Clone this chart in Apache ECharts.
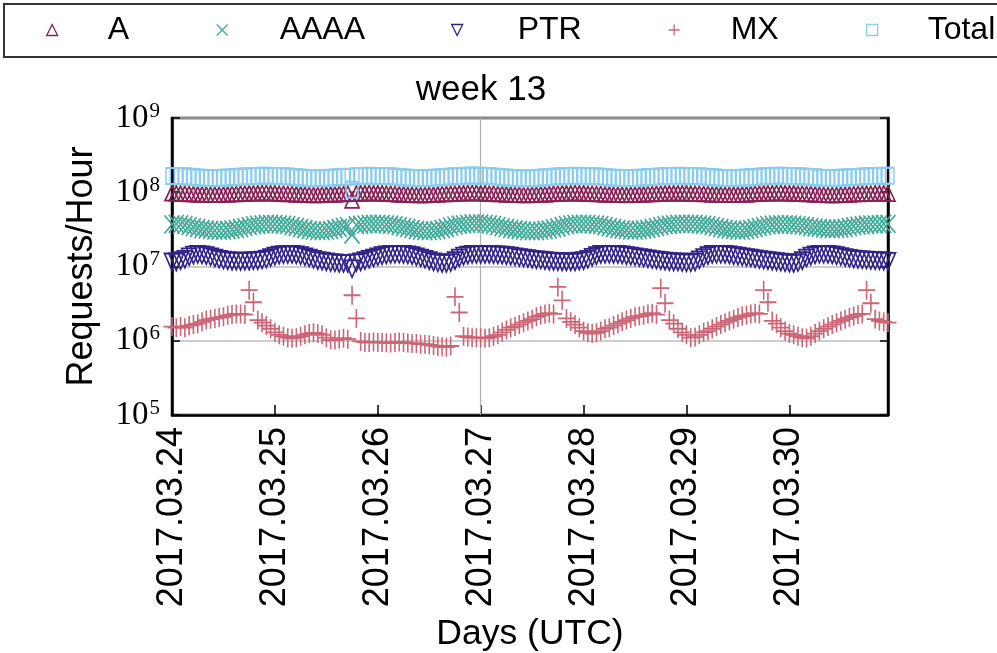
<!DOCTYPE html>
<html>
<head>
<meta charset="utf-8">
<script src="https://cdn.jsdelivr.net/npm/echarts@6/dist/echarts.min.js"></script>
<style>
  html, body { margin: 0; padding: 0; background: #ffffff; }
  #chart { width: 997px; height: 653px; }
</style>
</head>
<body>
<div id="chart"></div>
<script>
// Day tick labels (one tick every 24 hourly samples)
const dayLabels = ['2017.03.24', '2017.03.25', '2017.03.26', '2017.03.27', '2017.03.28', '2017.03.29', '2017.03.30'];
const weekStartDay = '2017.03.27';
const seriesNames = ['A', 'AAAA', 'PTR', 'MX', 'Total'];

// Hourly request rates, in millions of requests per hour (one row per day)
const reqA = [
  97,97,96,96,95,95,94,94,93,93,93,93,94,94,95,95,96,96,97,97,97,98,98,97,
  97,96,96,95,95,94,94,93,93,92,92,93,93,94,94,95,95,96,78,96,97,97,98,97,
  97,97,96,96,95,94,94,93,93,92,92,92,93,93,94,95,95,96,96,97,97,98,98,98,
  97,97,96,96,95,95,94,93,93,93,92,92,93,93,94,94,95,96,96,97,97,97,98,97,
  97,96,96,95,95,94,94,93,93,93,92,93,93,94,94,95,95,96,96,97,97,97,97,97,
  97,96,96,96,95,95,94,94,93,93,93,93,93,94,94,95,96,96,97,97,97,98,98,97,
  97,97,96,96,95,95,94,93,93,92,92,92,93,93,94,95,95,96,96,96,97,97,97,96
];
const reqAAAA = [
  37,37.5,37,36,35,34,33,32,31.5,31,30.5,30.5,30.5,31,31.5,32,33,34,35,36,36.5,37,37.5,37.5,
  37.5,37,36.5,36,35,34,33,32,31,30.5,30,30,30.5,31,32,33,34,35,27,36,36.5,37,37.5,37.5,
  37.5,37.5,37,36.5,36,35,34,33,32,31,30.5,30,30,30.5,31,32,33,34.5,35.5,36.5,37,37.5,38,38,
  38,37.5,37,36,35,34,33,32,31.5,31,30.5,30,30,30,30.5,31,31.5,32.5,33.5,35,36,37,37.5,37.5,
  37.5,37.5,37,36.5,36,35,34,33,32,31.5,31,30.5,30.5,31,31.5,32,33,34,35,36,36.5,37,37.5,37.5,
  37.5,37.5,37.5,37,36.5,36,35,34,33,32,31.5,31,30.5,30.5,31,32,33,34,35,36,36.5,37,37,37,
  37,36.5,36,35.5,35,34,33.5,33,32.5,32,32,32,32.5,33,34,35,35.5,36,36.5,37,37,37,37.5,37.5
];
const reqPTR = [
  11.5,11.5,12,12.5,13.5,14.2,14.5,14.3,14,13.5,13,12.5,12.2,12,11.8,11.8,11.7,11.8,11.8,12,12,12.2,12.6,13.2,
  13.8,14.2,14.4,14.5,14.5,14.3,14,13.5,13,12.5,12,11.8,11.5,11.3,11.2,11,11,11,9.3,11.2,11.5,12,12.5,13,
  13.5,14,14.3,14.5,14.6,14.6,14.5,14.3,14,13.5,13,12.5,12,11.5,11.2,11,11,11.3,12,13,13.8,14.2,14.5,14.5,
  14.5,14.5,14.5,14.4,14.3,14.2,14,13.8,13.5,13.2,13,12.8,12.5,12.3,12.2,12,11.8,11.7,11.6,11.5,11.5,11.5,11.5,11.8,
  12,12.5,13.3,14,14.5,14.6,14.6,14.5,14.5,14.3,14,13.8,13.5,13.2,13,12.7,12.4,12.2,12,11.8,11.6,11.5,11.5,11.3,
  11.2,11.2,11.5,12.3,13.2,14,14.5,14.6,14.6,14.5,14.3,14,13.8,13.5,13.2,13,12.7,12.4,12.2,12,11.8,11.6,11.4,11.2,
  11.1,11,11.3,12,13,13.8,14.3,14.6,14.6,14.5,14.3,14,13.6,13.2,12.9,12.6,12.4,12.3,12.2,12.1,12,12,11.8,11.7
];
const reqMX = [
  1.55,1.5,1.55,1.5,1.6,1.65,1.7,1.8,1.9,1.95,2.0,2.05,2.1,2.2,2.25,2.3,2.3,2.25,4.8,3.3,1.9,1.75,1.6,1.45,
  1.3,1.2,1.15,1.1,1.08,1.1,1.15,1.2,1.25,1.28,1.25,1.2,1.1,1.03,1.02,1.05,1.08,1.05,4.1,2.0,0.98,0.95,0.95,0.96,
  0.95,0.95,0.94,0.93,0.95,0.96,0.95,0.93,0.92,0.92,0.9,0.9,0.88,0.86,0.84,0.83,0.82,0.85,3.9,2.4,1.15,1.12,1.1,1.1,
  1.1,1.08,1.1,1.15,1.2,1.3,1.4,1.5,1.55,1.65,1.75,1.85,1.95,2.1,2.2,2.3,2.35,2.3,5.3,3.5,2.0,1.8,1.65,1.5,
  1.35,1.28,1.25,1.28,1.35,1.45,1.5,1.6,1.7,1.8,1.9,2.0,2.1,2.15,2.2,2.3,2.35,2.25,5.1,3.2,1.9,1.7,1.45,1.3,
  1.2,1.1,1.12,1.2,1.3,1.35,1.45,1.55,1.65,1.75,1.85,1.95,2.05,2.15,2.2,2.3,2.35,2.3,4.8,3.3,1.85,1.7,1.5,1.35,
  1.25,1.2,1.15,1.1,1.08,1.15,1.25,1.35,1.45,1.55,1.65,1.75,1.85,1.95,2.05,2.15,2.25,2.3,4.8,3.2,1.95,1.85,1.8,1.75
];
const reqTotal = [
  166,166,165,164,162,160,158,157,156,155,155,156,157,158,159,160,162,163,164,165,166,167,167,166,
  166,165,164,163,161,159,158,156,155,154,154,155,156,157,158,160,161,162,108,164,165,166,167,166,
  166,166,165,164,162,160,158,157,156,155,154,155,156,157,158,160,161,163,164,165,166,167,168,167,
  167,166,165,163,161,159,158,156,155,154,154,154,155,156,157,159,160,162,163,164,165,166,167,166,
  166,165,164,163,162,160,158,157,156,155,155,155,156,157,158,160,161,162,163,165,166,166,167,166,
  166,166,165,164,162,161,159,158,156,155,155,155,156,157,158,159,161,162,164,165,166,167,167,166,
  166,165,164,163,162,160,159,157,156,156,155,156,157,158,159,160,161,163,164,165,166,166,167,167
];

const UNIT = 1e6;          // stored values are millions
const HOURS_PER_DAY = 24;

const seriesValues = [reqA, reqAAAA, reqPTR, reqMX, reqTotal];
const colors = ['#882255', '#44aa99', '#332288', '#cc6677', '#88ccee'];
const symbols = [
  'path://M5,0L10,10L0,10Z',          // open triangle
  'path://M0,0L10,10M10,0L0,10',      // cross
  'path://M0,0L10,0L5,10Z',           // open inverted triangle
  'path://M5,0L5,10M0,5L10,5',        // plus
  'path://M0,0L10,0L10,10L0,10Z'      // open square
];
const symbolSizes = [[14, 15], [15, 18], [15, 17], [17, 19], [12, 16]];

const legendLeft = [46, 216, 451, 668, 866];
const legendTextPad = [45, 47, 50, 46, 45];

const SANS = 'Liberation Sans, Arial, sans-serif';
const SERIF = 'Liberation Serif, Times New Roman, serif';

const series = seriesNames.map((name, k) => {
  const s = {
    name: name,
    type: 'scatter',
    data: seriesValues[k].map((v, i) => [i, v * UNIT]),
    symbol: symbols[k],
    symbolSize: symbolSizes[k],
    symbolKeepAspect: false,
    itemStyle: { color: 'rgba(0,0,0,0)', borderColor: colors[k], borderWidth: 1.7, opacity: 1 },
    emphasis: { disabled: true },
    silent: true,
    animation: false,
    z: 3
  };
  if (k === 0) {
    s.markLine = {
      silent: true,
      symbol: 'none',
      z: 1,
      animation: false,
      label: { show: false },
      lineStyle: { color: '#b0b0b0', width: 1.2, type: 'solid' },
      data: [{ xAxis: dayLabels.indexOf(weekStartDay) * HOURS_PER_DAY }]
    };
  }
  return s;
});

const legends = seriesNames.map((name, k) => ({
  data: [{ name: name, icon: symbols[k] }],
  left: legendLeft[k],
  top: 14,
  padding: 0,
  itemWidth: 11,
  itemHeight: 13,
  selectedMode: false,
  itemStyle: { color: 'rgba(0,0,0,0)', borderColor: colors[k], borderWidth: 1.3 },
  textStyle: { fontSize: 32, fontFamily: SANS, color: '#000', padding: [0, 0, 0, legendTextPad[k]] }
}));

const chart = echarts.init(document.getElementById('chart'), null, { renderer: 'canvas' });
chart.setOption({
  backgroundColor: '#ffffff',
  animation: false,
  title: {
    text: 'week 13',
    left: 476,
    top: 68,
    textAlign: 'center',
    textStyle: { fontSize: 35, fontWeight: 'normal', fontFamily: SANS, color: '#000' }
  },
  legend: legends,
  graphic: [{
    type: 'rect',
    silent: true,
    shape: { x: 4, y: 4, width: 1010, height: 53 },
    style: { fill: 'none', stroke: '#333', lineWidth: 2 }
  }],
  grid: {
    left: 172, right: 109, top: 118, bottom: 238,
    outerBoundsMode: 'none',
    containLabel: false,
    show: true, borderColor: '#000', borderWidth: 2.5, backgroundColor: 'transparent'
  },
  xAxis: {
    type: 'value',
    min: 0,
    max: dayLabels.length * HOURS_PER_DAY - 1,
    interval: HOURS_PER_DAY,
    axisLine: { show: true, lineStyle: { color: '#000', width: 2.5 } },
    axisTick: { show: true, inside: true, length: 10, lineStyle: { color: '#000', width: 1.5 } },
    splitLine: { show: false },
    axisLabel: {
      rotate: 90,
      margin: 12,
      fontSize: 36,
      fontFamily: SANS,
      color: '#000',
      showMaxLabel: false,
      formatter: v => (v % HOURS_PER_DAY === 0 && dayLabels[v / HOURS_PER_DAY]) || ''
    },
    name: 'Days (UTC)',
    nameLocation: 'middle',
    nameGap: 201,
    nameTextStyle: { fontSize: 35.5, fontFamily: SANS, color: '#000' }
  },
  yAxis: [{
    type: 'log',
    logBase: 10,
    min: 1e5,
    max: 1e9,
    axisLine: { show: true, lineStyle: { color: '#000', width: 2.5 } },
    axisTick: { show: true, inside: true, length: 8, lineStyle: { color: '#000', width: 1.5 } },
    minorTick: { show: false },
    splitLine: { show: true, lineStyle: { color: '#bdbdbd', width: 1.5 } },
    axisLabel: {
      margin: 12,
      color: '#000',
      formatter: v => '{b|10}{s|' + Math.round(Math.log10(v)) + '}',
      rich: {
        b: { fontSize: 33, fontFamily: SERIF, color: '#000' },
        s: { fontSize: 21, fontFamily: SERIF, color: '#000', padding: [0, 0, 14, 1] }
      }
    },
    name: 'Requests/Hour',
    nameLocation: 'middle',
    nameGap: 72,
    nameTextStyle: { fontSize: 36, fontFamily: SANS, color: '#000' }
  }, {
    type: 'log',
    logBase: 10,
    min: 1e5,
    max: 1e9,
    position: 'right',
    axisLine: { show: true, lineStyle: { color: '#000', width: 2.5 } },
    axisTick: { show: true, inside: true, length: 8, lineStyle: { color: '#000', width: 1.5 } },
    axisLabel: { show: false },
    splitLine: { show: false }
  }],
  series: series
});
</script>
</body>
</html>
